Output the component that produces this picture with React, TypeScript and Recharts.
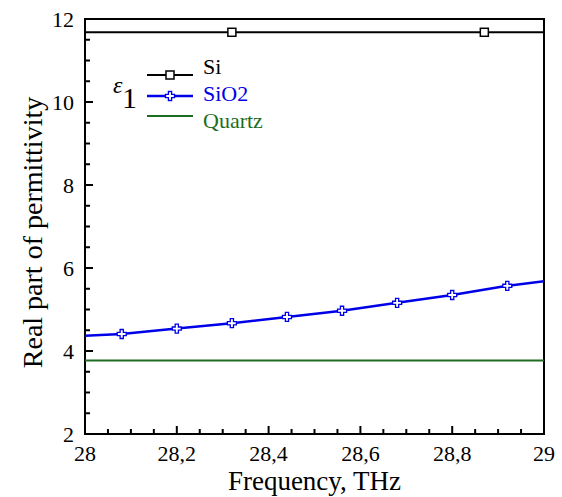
import React from 'react'
import { LineChart, Line, XAxis, YAxis, ReferenceArea, Legend } from 'recharts'

// frequency axis, THz
const xTicks = [
  28, 28.05, 28.1, 28.15, 28.2, 28.25, 28.3, 28.35, 28.4, 28.45, 28.5,
  28.55, 28.6, 28.65, 28.7, 28.75, 28.8, 28.85, 28.9, 28.95, 29,
]
const xMajor = [28, 28.2, 28.4, 28.6, 28.8, 29]
const xLabels = ['28', '28,2', '28,4', '28,6', '28,8', '29']

const yTicks = [
  2, 2.5, 3, 3.5, 4, 4.5, 5, 5.5, 6, 6.5, 7, 7.5, 8, 8.5, 9, 9.5, 10, 10.5, 11, 11.5, 12,
]
const yMajor = [2, 4, 6, 8, 10, 12]
const yLabels = ['2', '4', '6', '8', '10', '12']

// real part of permittivity
const siFreq = [28, 28.32, 28.87, 29]
const siEps = [11.68, 11.68, 11.68, 11.68]

const sio2Freq = [28, 28.08, 28.2, 28.32, 28.44, 28.56, 28.68, 28.8, 28.92, 29]
const sio2Eps = [4.37, 4.41, 4.54, 4.67, 4.82, 4.97, 5.16, 5.35, 5.57, 5.68]

const quartzFreq = [28, 29]
const quartzEps = [3.77, 3.77]

const toPoints = (f: number[], v: number[]) => f.map((x, i) => ({ f: x, v: v[i] }))

const SERIF = "'Liberation Serif', 'Times New Roman', serif"
const serif = (size: number, extra: React.CSSProperties = {}) => ({ fontFamily: SERIF, fontSize: size, ...extra })
const BLUE = '#0000e8'
const GREEN = '#1d6e22'

const near = (a: number, b: number) => Math.abs(a - b) < 1e-6

function SquareMark({ cx, cy }: { cx: number; cy: number }) {
  return <rect x={cx - 4} y={cy - 4} width={8} height={8} fill="#fff" stroke="#000" strokeWidth={1.5} />
}

function PlusMark({ cx, cy, color }: { cx: number; cy: number; color: string }) {
  const a = 4.5
  const w = 1.6
  const d = `M${cx - w},${cy - a} H${cx + w} V${cy - w} H${cx + a} V${cy + w} H${cx + w} V${cy + a} H${cx - w} V${cy + w} H${cx - a} V${cy - w} H${cx - w} Z`
  return <path d={d} fill="#fff" stroke={color} strokeWidth={1.3} />
}

const series = [
  { name: 'Si', data: toPoints(siFreq, siEps), color: '#000', width: 2, mark: 'square' },
  { name: 'SiO2', data: toPoints(sio2Freq, sio2Eps), color: BLUE, width: 2.5, mark: 'plus' },
  { name: 'Quartz', data: toPoints(quartzFreq, quartzEps), color: GREEN, width: 2, mark: 'none' },
]

// markers sit on interior samples only, the end points just carry the line
function makeDot(mark: string, color: string) {
  return (props: any) => {
    const { cx, cy, payload, index } = props
    const edge = near(payload.f, 28) || near(payload.f, 29)
    if (edge || cx == null) return <g key={`d-${index}`} />
    return (
      <g key={`d-${index}`}>
        {mark === 'square' ? <SquareMark cx={cx} cy={cy} /> : <PlusMark cx={cx} cy={cy} color={color} />}
      </g>
    )
  }
}

function XTick(props: any) {
  const { x, y, payload } = props
  const v = payload.value
  const mi = xMajor.findIndex((m) => near(m, v))
  const major = mi >= 0
  const edge = near(v, 28) || near(v, 29)
  return (
    <g>
      {!edge && <line x1={x} x2={x} y1={y} y2={y - (major ? 8 : 5)} stroke="#000" strokeWidth={2} />}
      {major && (
        <text x={x} y={y + 27} textAnchor="middle" style={serif(22)} fill="#000">
          {xLabels[mi]}
        </text>
      )}
    </g>
  )
}

function YTick(props: any) {
  const { x, y, payload } = props
  const v = payload.value
  const mi = yMajor.findIndex((m) => near(m, v))
  const major = mi >= 0
  const edge = near(v, 2) || near(v, 12)
  return (
    <g>
      {!edge && <line x1={x} x2={x + (major ? 8 : 5)} y1={y} y2={y} stroke="#000" strokeWidth={2} />}
      {major && (
        <text x={x - 11} y={y} dy="0.36em" textAnchor="end" style={serif(22)} fill="#000">
          {yLabels[mi]}
        </text>
      )}
    </g>
  )
}

function renderLegend() {
  const lineY = [20, 41, 61]
  const textY = [19, 46, 73]
  return (
    <svg width={200} height={90} style={{ overflow: 'visible' }}>
      <text x={13} y={38} style={serif(24, { fontStyle: 'italic' })} fill="#000">
        ε
      </text>
      <text x={22} y={53} style={serif(30)} fill="#000">
        1
      </text>
      {series.map((s, i) => (
        <g key={s.name}>
          <line x1={47} x2={93} y1={lineY[i]} y2={lineY[i]} stroke={s.color} strokeWidth={s.width} />
          {s.mark === 'square' && <SquareMark cx={70} cy={lineY[i]} />}
          {s.mark === 'plus' && <PlusMark cx={70} cy={lineY[i]} color={s.color} />}
          <text x={103} y={textY[i]} style={serif(22)} fill={s.color}>
            {s.name}
          </text>
        </g>
      ))}
    </svg>
  )
}

function AxisTitleY(props: any) {
  const { viewBox } = props
  const cx = viewBox.x + 42
  const cy = viewBox.y + viewBox.height / 2 + 6
  return (
    <text
      x={cx}
      y={cy}
      transform={`rotate(-90, ${cx}, ${cy})`}
      textAnchor="middle"
      style={serif(28)}
      fill="#000"
    >
      Real part of permittivity
    </text>
  )
}

function AxisTitleX(props: any) {
  const { viewBox } = props
  return (
    <text x={viewBox.x + viewBox.width / 2} y={490} textAnchor="middle" style={serif(27)} fill="#000">
      Frequency, THz
    </text>
  )
}

export default function App() {
  return (
    <div style={{ position: 'absolute', left: 0, top: 0, width: 562, height: 497, background: '#fff' }}>
      <LineChart width={562} height={497} margin={{ top: 19, right: 18, bottom: 0, left: 0 }}>
        <XAxis
          dataKey="f"
          type="number"
          domain={[28, 29]}
          ticks={xTicks}
          interval={0}
          height={63}
          axisLine={false}
          tickLine={false}
          tickSize={0}
          tickMargin={0}
          tick={<XTick />}
          allowDataOverflow
          label={<AxisTitleX />}
        />
        <YAxis
          type="number"
          domain={[2, 12]}
          ticks={yTicks}
          interval={0}
          width={85}
          axisLine={false}
          tickLine={false}
          tickSize={0}
          tickMargin={0}
          tick={<YTick />}
          allowDataOverflow
          label={<AxisTitleY />}
        />
        <ReferenceArea x1={28} x2={29} y1={2} y2={12} fill="none" stroke="#000" strokeWidth={2} />
        {series.map((s) => (
          <Line
            key={s.name}
            name={s.name}
            data={s.data}
            dataKey="v"
            type="linear"
            stroke={s.color}
            strokeWidth={s.width}
            dot={s.mark === 'none' ? false : makeDot(s.mark, s.color)}
            activeDot={false}
            isAnimationActive={false}
          />
        ))}
        <Legend
          layout="horizontal"
          verticalAlign="middle"
          align="center"
          content={renderLegend}
          wrapperStyle={{ left: 100, top: 55, width: 200, height: 90 }}
        />
      </LineChart>
    </div>
  )
}
